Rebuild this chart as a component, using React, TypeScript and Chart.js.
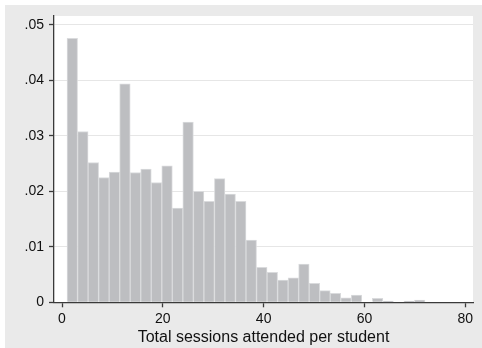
import React, { useEffect, useRef } from "react";
import { Chart, registerables } from "chart.js";

Chart.register(...registerables);

// Histogram definition (Stata-style density histogram, 34 bins from 1 to 72)
const binStart = 1;
const binWidth = 71 / 34;
const density = [
  0.0476, 0.0308, 0.0252, 0.0225, 0.0235, 0.0394, 0.0234, 0.024, 0.0216, 0.0246,
  0.017, 0.0325, 0.02, 0.0182, 0.0223, 0.0195, 0.0182, 0.0112, 0.0063, 0.0054,
  0.004, 0.0044, 0.0069, 0.0034, 0.0021, 0.0016, 0.0008, 0.0013, 0, 0.0007,
  0.0002, 0, 0.0002, 0.0004,
];

const xTicks = [0, 20, 40, 60, 80];
const xTickLabels = ["0", "20", "40", "60", "80"];
const yTicks = [0, 0.01, 0.02, 0.03, 0.04, 0.05];
const yTickLabels = ["0", ".01", ".02", ".03", ".04", ".05"];
const xTitle = "Total sessions attended per student";

const FONT = "'Liberation Sans', Arial, Helvetica, sans-serif";
const TEXT = "#111111";
const AXIS = "#3a3a3a";

const bgPlugin = {
  id: "stataBg",
  beforeDraw(chart: any) {
    const { ctx, width, height, chartArea } = chart;
    ctx.save();
    ctx.fillStyle = "#ffffff";
    ctx.fillRect(0, 0, width, height);
    ctx.fillStyle = "#EAEAEA";
    ctx.fillRect(5, 5, width - 5, height - 5);
    ctx.fillStyle = "#ffffff";
    ctx.fillRect(
      chartArea.left,
      chartArea.top,
      chartArea.right - chartArea.left,
      chartArea.bottom - chartArea.top
    );
    ctx.restore();
  },
};

export default function App() {
  const canvasRef = useRef<HTMLCanvasElement | null>(null);

  useEffect(() => {
    if (!canvasRef.current) return;
    const points = density.map((d, i) => ({
      x: binStart + binWidth * (i + 0.5),
      y: d,
    }));
    const chart = new Chart(canvasRef.current, {
      type: "bar",
      data: {
        datasets: [
          {
            data: points as any,
            backgroundColor: "#BDBEC1",
            borderColor: (ctx: any) =>
              ctx.raw && ctx.raw.y > 0 ? "#DADBDD" : "rgba(0,0,0,0)",
            borderWidth: 1,
            barPercentage: 1,
            categoryPercentage: 1,
          },
        ],
      },
      options: {
        animation: false,
        responsive: false,
        maintainAspectRatio: false,
        layout: { padding: { left: 0, top: 16, right: 9, bottom: 0 } },
        plugins: {
          legend: { display: false },
          tooltip: { enabled: false },
        },
        scales: {
          x: {
            type: "linear",
            min: -1.587,
            max: 81.53,
            offset: false,
            z: 1,
            afterBuildTicks: (s: any) => {
              s.ticks = xTicks.map((v) => ({ value: v }));
            },
            afterFit: (s: any) => {
              s.height = 45.7;
            },
            ticks: {
              autoSkip: false,
              maxRotation: 0,
              padding: 3,
              color: TEXT,
              font: { family: FONT, size: 14 },
              callback: (_v: any, i: number) => xTickLabels[i],
            },
            grid: {
              drawOnChartArea: false,
              drawTicks: true,
              tickLength: 5,
              tickColor: AXIS,
              tickWidth: 1.3,
              offset: false,
            },
            border: { display: true, color: AXIS, width: 1.3 },
            title: {
              display: true,
              text: xTitle,
              color: TEXT,
              font: { family: FONT, size: 16 },
              padding: { top: 0, bottom: 1 },
            },
          },
          y: {
            type: "linear",
            min: 0,
            max: 0.05162,
            afterBuildTicks: (s: any) => {
              s.ticks = yTicks.map((v) => ({ value: v }));
            },
            afterFit: (s: any) => {
              s.width = 54;
            },
            ticks: {
              padding: 5,
              color: TEXT,
              font: { family: FONT, size: 14 },
              callback: (_v: any, i: number) => yTickLabels[i],
            },
            grid: {
              color: (ctx: any) =>
                ctx.tick && ctx.tick.value === 0 ? "rgba(0,0,0,0)" : "#E6E6E6",
              lineWidth: 1,
              drawTicks: true,
              tickLength: 5,
              tickColor: AXIS,
              tickWidth: 1.3,
            },
            border: { display: true, color: AXIS, width: 1.3 },
          },
        },
      } as any,
      plugins: [bgPlugin],
    });
    return () => chart.destroy();
  }, []);

  return (
    <div style={{ position: "absolute", left: 0, top: 0, width: 482, height: 348 }}>
      <canvas ref={canvasRef} width={482} height={348} style={{ width: 482, height: 348, display: "block" }} />
    </div>
  );
}
